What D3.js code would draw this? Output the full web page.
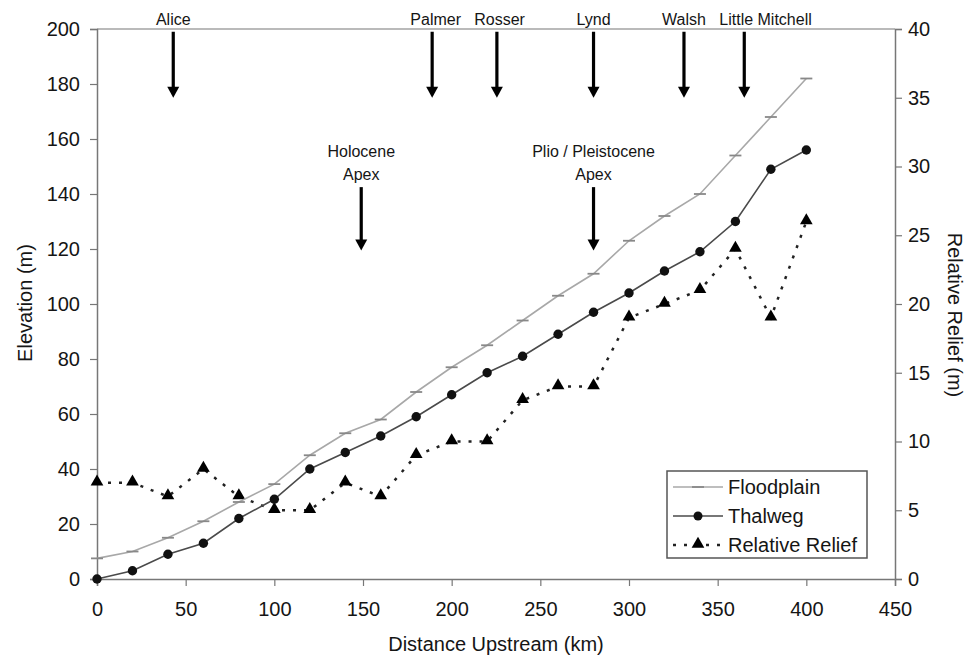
<!DOCTYPE html>
<html>
<head>
<meta charset="utf-8">
<script src="https://cdn.jsdelivr.net/npm/d3@7"></script>
<style>
  body { margin: 0; background: #fff; }
  text { font-family: "Liberation Sans", Arial, sans-serif; fill: #151515; }
</style>
</head>
<body>
<svg id="chart" width="967" height="657"></svg>
<script>
// distance upstream (km)
const distance = [0, 20, 40, 60, 80, 100, 120, 140, 160, 180, 200, 220, 240, 260, 280, 300, 320, 340, 360, 380, 400];
// elevations (m), left axis
const floodplain = [7.5, 10, 15, 21, 28, 34.5, 45, 53, 58, 68, 77, 85, 94, 103, 111, 123, 132, 140, 154, 168, 182];
const thalweg = [0, 3, 9, 13, 22, 29, 40, 46, 52, 59, 67, 75, 81, 89, 97, 104, 112, 119, 130, 149, 156];
// relative relief (m), right axis
const relief = [7, 7, 6, 8, 6, 5, 5, 7, 6, 9, 10, 10, 13, 14, 14, 19, 20, 21, 24, 19, 26];

const xTicks = [0, 50, 100, 150, 200, 250, 300, 350, 400, 450];
const yTicks = [0, 20, 40, 60, 80, 100, 120, 140, 160, 180, 200];
const y2Ticks = [0, 5, 10, 15, 20, 25, 30, 35, 40];

// tributary / apex arrows: km of arrow, km of label centre, label lines, arrow from / to (elevation)
const arrows = [
  { km: 43, labelKm: 43, label: ["Alice"], from: 199, to: 175 },
  { km: 189, labelKm: 191, label: ["Palmer"], from: 199, to: 175 },
  { km: 225.5, labelKm: 227, label: ["Rosser"], from: 199, to: 175 },
  { km: 280, labelKm: 280, label: ["Lynd"], from: 199, to: 175 },
  { km: 331, labelKm: 331, label: ["Walsh"], from: 199, to: 175 },
  { km: 365, labelKm: 377, label: ["Little Mitchell"], from: 199, to: 175 },
  { km: 149, labelKm: 149, label: ["Holocene", "Apex"], from: 142.5, to: 119.5 },
  { km: 280, labelKm: 280, label: ["Plio / Pleistocene", "Apex"], from: 142.5, to: 119.5 }
];

const svg = d3.select("#chart");
const margin = { top: 29, right: 72, bottom: 78, left: 97 };
const width = 967 - margin.left - margin.right,
      height = 657 - margin.top - margin.bottom;

const g = svg.append("g").attr("transform", `translate(${margin.left},${margin.top})`);

const x = d3.scaleLinear().domain([0, 450]).range([0, width]);
const y = d3.scaleLinear().domain([0, 200]).range([height, 0]);
const y2 = d3.scaleLinear().domain([0, 40]).range([height, 0]);

const axisColor = "#777";

// axes
let gx = g.append("g").attr("transform", `translate(0,${height})`)
  .call(d3.axisBottom(x).tickValues(xTicks).tickSize(7).tickPadding(16));
let gy = g.append("g")
  .call(d3.axisLeft(y).tickValues(yTicks).tickSize(7).tickPadding(10));
let gy2 = g.append("g").attr("transform", `translate(${width},0)`)
  .call(d3.axisRight(y2).tickValues(y2Ticks).tickSize(7).tickPadding(6));

[gx, gy, gy2].forEach(a => {
  a.select(".domain").attr("stroke", axisColor).attr("stroke-width", 1.5);
  a.selectAll(".tick line").attr("stroke", axisColor).attr("stroke-width", 1.2);
  a.selectAll(".tick text").style("font-size", "20px").attr("fill", "#151515");
});

// top border
g.append("line").attr("x1", 0).attr("x2", width).attr("y1", 0).attr("y2", 0)
  .attr("stroke", axisColor).attr("stroke-width", 1.2);

// axis titles
g.append("text").attr("x", width / 2).attr("y", height + 72)
  .attr("text-anchor", "middle").style("font-size", "20px")
  .text("Distance Upstream (km)");
g.append("text").attr("transform", `translate(-65,${height / 2 - 1}) rotate(-90)`)
  .attr("text-anchor", "middle").style("font-size", "20px")
  .text("Elevation (m)");
g.append("text").attr("transform", `translate(${width + 53},${height / 2 + 11}) rotate(90)`)
  .attr("text-anchor", "middle").style("font-size", "20px")
  .text("Relative Relief (m)");

const fpData = distance.map((d, i) => ({ x: d, y: floodplain[i] }));
const thData = distance.map((d, i) => ({ x: d, y: thalweg[i] }));
const rrData = distance.map((d, i) => ({ x: d, y: relief[i] }));

const line = d3.line().x(d => x(d.x)).y(d => y(d.y));
const line2 = d3.line().x(d => x(d.x)).y(d => y2(d.y));
const tri = d3.symbol().type(d3.symbolTriangle).size(70);

// relative relief
g.append("path").datum(rrData).attr("d", line2)
  .attr("fill", "none").attr("stroke", "#222").attr("stroke-width", 2.5)
  .attr("stroke-dasharray", "3,8");
g.selectAll(".rr").data(rrData).enter().append("path")
  .attr("class", "rr")
  .attr("transform", d => `translate(${x(d.x)},${y2(d.y) - 1})`)
  .attr("d", tri).attr("fill", "#000");

// floodplain
g.append("path").datum(fpData).attr("d", line)
  .attr("fill", "none").attr("stroke", "#a8a8a8").attr("stroke-width", 1.6);
g.selectAll(".fp").data(fpData).enter().append("line")
  .attr("class", "fp")
  .attr("x1", d => x(d.x) - 6).attr("x2", d => x(d.x) + 6)
  .attr("y1", d => y(d.y)).attr("y2", d => y(d.y))
  .attr("stroke", "#888").attr("stroke-width", 1.8);

// thalweg
g.append("path").datum(thData).attr("d", line)
  .attr("fill", "none").attr("stroke", "#4a4a4a").attr("stroke-width", 1.6);
g.selectAll(".th").data(thData).enter().append("circle")
  .attr("class", "th")
  .attr("cx", d => x(d.x)).attr("cy", d => y(d.y)).attr("r", 4.7)
  .attr("fill", "#111");

// arrows
const arr = g.selectAll(".arrow").data(arrows).enter().append("g").attr("class", "arrow");
arr.append("line")
  .attr("x1", d => x(d.km)).attr("x2", d => x(d.km))
  .attr("y1", d => y(d.from)).attr("y2", d => y(d.to) - 8)
  .attr("stroke", "#000").attr("stroke-width", 3.2);
arr.append("path")
  .attr("d", d => {
    const px = x(d.km), py = y(d.to);
    return `M${px - 6},${py - 11}L${px + 6},${py - 11}L${px},${py}Z`;
  })
  .attr("fill", "#000");
arr.each(function(d) {
  const n = d.label.length;
  d3.select(this).selectAll("text").data(d.label).enter().append("text")
    .attr("x", x(d.labelKm))
    .attr("y", (t, i) => y(d.from) - 7 - (n - 1 - i) * 23)
    .attr("text-anchor", "middle").style("font-size", "16px")
    .attr("fill", "#222")
    .text(t => t);
});

// legend, anchored to the lower right of the plot
const legend = g.append("g").attr("transform", `translate(${width - 228},${height - 108})`);
legend.append("rect").attr("width", 200).attr("height", 87)
  .attr("fill", "#fff").attr("stroke", "#555").attr("stroke-width", 1.5);
const items = [
  { name: "Floodplain", key: "fp" },
  { name: "Thalweg", key: "th" },
  { name: "Relative Relief", key: "rr" }
];
items.forEach((it, i) => {
  const cy = 16 + i * 29;
  const row = legend.append("g").attr("transform", `translate(0,${cy})`);
  if (it.key === "fp") {
    row.append("line").attr("x1", 6).attr("x2", 56).attr("stroke", "#a8a8a8").attr("stroke-width", 1.6);
    row.append("line").attr("x1", 25).attr("x2", 37).attr("stroke", "#888").attr("stroke-width", 1.8);
  } else if (it.key === "th") {
    row.append("line").attr("x1", 6).attr("x2", 56).attr("stroke", "#4a4a4a").attr("stroke-width", 1.6);
    row.append("circle").attr("cx", 31).attr("r", 4.5).attr("fill", "#111");
  } else {
    row.append("line").attr("x1", 6).attr("x2", 56).attr("stroke", "#222").attr("stroke-width", 2.5)
      .attr("stroke-dasharray", "3,8");
    row.append("path").attr("transform", "translate(31,-1)").attr("d", tri).attr("fill", "#000");
  }
  row.append("text").attr("x", 61).attr("y", 7).style("font-size", "20px").text(it.name);
});
</script>
</body>
</html>
